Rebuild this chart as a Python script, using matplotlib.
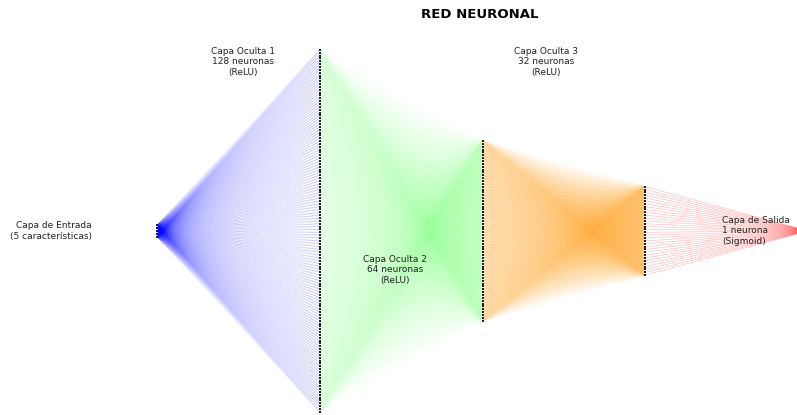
import numpy as np
import matplotlib.pyplot as plt
from matplotlib.collections import LineCollection

# capas de la red
layer_sizes = [5, 128, 64, 32, 1]
layer_colors = ['blue', 'lime', 'orange', 'red']
layer_alphas = [0.06, 0.008, 0.045, 0.25]
labels = ['Capa de Entrada\n(5 características)',
          'Capa Oculta 1\n128 neuronas\n(ReLU)',
          'Capa Oculta 2\n64 neuronas\n(ReLU)',
          'Capa Oculta 3\n32 neuronas\n(ReLU)',
          'Capa de Salida\n1 neurona\n(Sigmoid)']
label_pos = [(-0.40, 0.0), (0.53, 59.3), (1.46, -13.7), (2.39, 59.3), (3.47, 0.0)]
label_ha = ['right', 'center', 'center', 'center', 'left']

fig = plt.figure(figsize=(7.97, 4.15), dpi=100)
ax = fig.add_axes([0, 0, 1, 1])

def ys(n):
    return np.arange(n) - (n - 1) / 2

# conexiones entre capas
for i in range(len(layer_sizes) - 1):
    y0 = ys(layer_sizes[i])
    y1 = ys(layer_sizes[i + 1])
    segs = [[(i, a), (i + 1, b)] for a in y0 for b in y1]
    lc = LineCollection(segs, colors=layer_colors[i], alpha=layer_alphas[i], linewidths=0.5)
    ax.add_collection(lc)

# neuronas
for i, n in enumerate(layer_sizes):
    y = ys(n)
    ax.scatter(np.full(n, i), y, s=1.2, c='#222222', marker='s', linewidths=0, zorder=3)

for lab, (x, y), ha in zip(labels, label_pos, label_ha):
    ax.text(x, y, lab, ha=ha, va='center', fontsize=6.5, color='#222222', zorder=4)

ax.set_xlim(-0.965, 3.932)
ax.set_ylim(-64.6, 81.0)
ax.axis('off')
fig.text(480 / 797, 1 - 15 / 415, 'RED NEURONAL', ha='center', va='center',
         fontsize=9.5, fontweight='bold')

fig.savefig('out.png', dpi=100)
